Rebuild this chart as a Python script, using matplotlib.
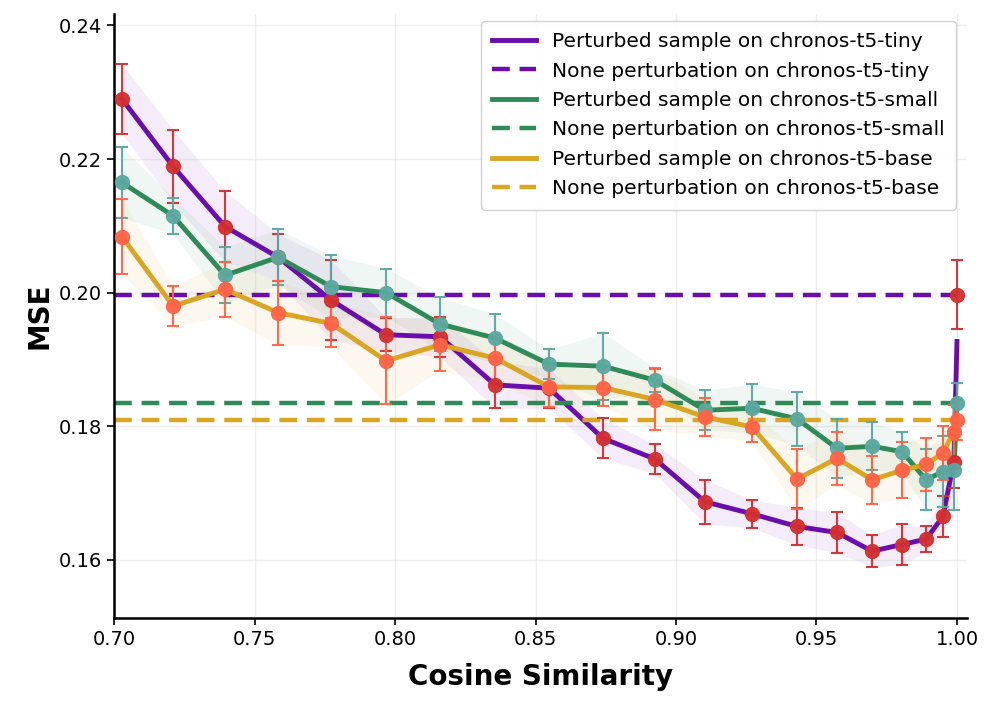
import matplotlib
matplotlib.use("Agg")
import matplotlib.pyplot as plt
import numpy as np

cos_sim = [0.7028, 0.7210, 0.7395, 0.7584, 0.7772, 0.7968, 0.8160, 0.8356, 0.8548, 0.8740,
           0.8925, 0.9103, 0.9270, 0.9431, 0.9573, 0.9698, 0.9804, 0.9890, 0.9950, 0.9989, 1.0000]

tiny_mse = [0.2290, 0.2189, 0.2099, 0.2053, 0.1989, 0.1937, 0.1934, 0.1862, 0.1857, 0.1782, 0.1751,
            0.1687, 0.1669, 0.1650, 0.1641, 0.1613, 0.1623, 0.1631, 0.1665, 0.1747, 0.1997]
tiny_line = [0.2290, 0.2189, 0.2099, 0.2053, 0.1989, 0.1937, 0.1934, 0.1862, 0.1857, 0.1782, 0.1751,
             0.1687, 0.1669, 0.1650, 0.1641, 0.1613, 0.1623, 0.1631, 0.1665, 0.1747, 0.1927]
tiny_err = [0.0052, 0.0055, 0.0053, 0.0035, 0.0060, 0.0025, 0.0030, 0.0035, 0.0030, 0.0030, 0.0022,
            0.0033, 0.0021, 0.0028, 0.0030, 0.0024, 0.0030, 0.0019, 0.0030, 0.0040, 0.0052]

small_mse = [0.2165, 0.2115, 0.2026, 0.2053, 0.2009, 0.2000, 0.1953, 0.1932, 0.1893, 0.1890, 0.1869,
             0.1824, 0.1827, 0.1811, 0.1767, 0.1770, 0.1762, 0.1720, 0.1732, 0.1735, 0.1835]
small_err = [0.0053, 0.0027, 0.0042, 0.0042, 0.0047, 0.0036, 0.0040, 0.0036, 0.0022, 0.0050, 0.0018,
             0.0030, 0.0036, 0.0040, 0.0044, 0.0036, 0.0030, 0.0046, 0.0053, 0.0060, 0.0030]

base_mse = [0.2084, 0.1980, 0.2005, 0.1970, 0.1954, 0.1898, 0.1922, 0.1902, 0.1859, 0.1858, 0.1840,
            0.1814, 0.1799, 0.1721, 0.1752, 0.1720, 0.1734, 0.1743, 0.1760, 0.1792, 0.1810]
base_err = [0.0056, 0.0030, 0.0041, 0.0048, 0.0035, 0.0065, 0.0039, 0.0035, 0.0030, 0.0028, 0.0045,
            0.0028, 0.0022, 0.0045, 0.0040, 0.0036, 0.0042, 0.0040, 0.0040, 0.0040, 0.0030]

baseline_tiny = 0.1997
baseline_small = 0.1835
baseline_base = 0.1810

models = ["chronos-t5-tiny", "chronos-t5-small", "chronos-t5-base"]

series = [
    (tiny_line, tiny_mse, tiny_err, baseline_tiny, "#6a0dad", "#d32f2f"),
    (small_mse, small_mse, small_err, baseline_small, "#2e8b57", "#5ba8a0"),
    (base_mse, base_mse, base_err, baseline_base, "#daa520", "#ff6347"),
]

fig = plt.figure(figsize=(9.97, 7.05), dpi=100)
ax = fig.add_axes([0.1144, 0.1234, 0.970 - 0.1144, 0.980 - 0.1234])

x = np.array(cos_sim)
for (line_y, mk_y, err, base, lc, mc), name in zip(series, models):
    ly = np.array(line_y)
    e = np.array(err)
    ax.fill_between(x, ly - e, ly + e, color=lc, alpha=0.07, linewidth=0, zorder=1)
    ax.plot(x, ly, color=lc, linewidth=3.5, zorder=2,
            label=f"Perturbed sample on {name}")
    ax.hlines(base, 0.70, 1.0, colors=lc, linestyles=(0, (4, 2.2)), linewidth=3.2, zorder=2,
              label=f"None perturbation on {name}")
    ax.errorbar(x, mk_y, yerr=e, fmt="o", color=mc, markersize=10, ecolor=mc,
                elinewidth=1.5, capsize=4, capthick=1.5, zorder=3, alpha=0.95)

ax.set_xlim(0.70, 1.0036)
ax.set_ylim(0.1513, 0.2417)
ax.set_xticks([0.70, 0.75, 0.80, 0.85, 0.90, 0.95, 1.00])
ax.set_yticks([0.16, 0.18, 0.20, 0.22, 0.24])
ax.xaxis.set_major_formatter(matplotlib.ticker.FormatStrFormatter("%.2f"))
ax.yaxis.set_major_formatter(matplotlib.ticker.FormatStrFormatter("%.2f"))
ax.tick_params(labelsize=14, width=1.2, length=5)
ax.grid(True, color="#dddddd", alpha=0.45, linewidth=1)
ax.set_axisbelow(True)
for s in ["top", "right"]:
    ax.spines[s].set_visible(False)
for s in ["left", "bottom"]:
    ax.spines[s].set_linewidth(1.8)

ax.set_xlabel("Cosine Similarity", fontsize=20, fontweight="bold", labelpad=10)
ax.set_ylabel("MSE", fontsize=20, fontweight="bold", labelpad=4)

handles, labels = ax.get_legend_handles_labels()
ax.legend(handles, labels, loc="upper right", fontsize=14.5, framealpha=0.9,
          handlelength=2.2, borderaxespad=0, labelspacing=0.52, borderpad=0.55,
          bbox_to_anchor=(956 / 997, 1 - 21 / 705), bbox_transform=fig.transFigure)

fig.savefig("out.png", dpi=100)
